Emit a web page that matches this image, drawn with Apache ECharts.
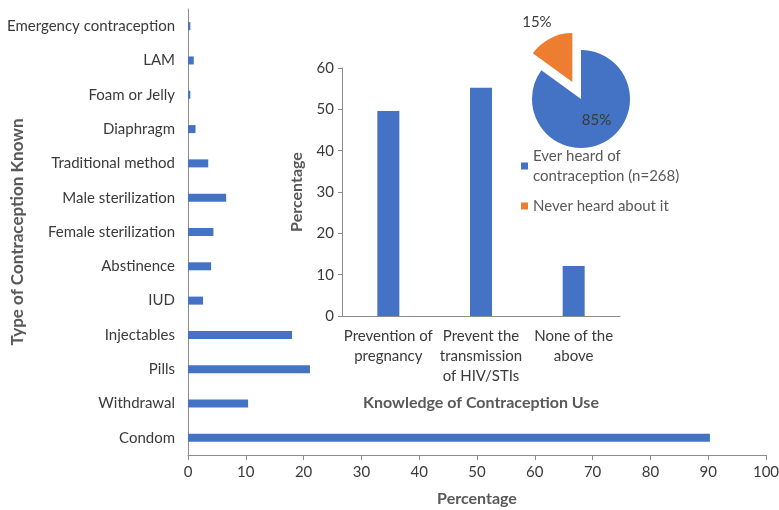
<!DOCTYPE html>
<html>
<head>
<meta charset="utf-8">
<script src="https://cdn.jsdelivr.net/npm/echarts@6/dist/echarts.min.js"></script>
<style>
  html, body { margin: 0; padding: 0; background: #fff; }
  #chart { width: 779px; height: 510px; }
</style>
</head>
<body>
<div id="chart"></div>
<script>
// Contraceptive methods known (top to bottom) and % of respondents
const methods = ['Emergency contraception', 'LAM', 'Foam or Jelly', 'Diaphragm', 'Traditional method',
  'Male sterilization', 'Female sterilization', 'Abstinence', 'IUD', 'Injectables', 'Pills',
  'Withdrawal', 'Condom'];
const methodPct = [0.4, 1.0, 0.4, 1.3, 3.5, 6.6, 4.4, 4.0, 2.6, 18.0, 21.1, 10.4, 90.3];
const pctTicks = [0, 10, 20, 30, 40, 50, 60, 70, 80, 90, 100];

// Knowledge of what contraception is used for
const uses = ['Prevention of\npregnancy', 'Prevent the\ntransmission\nof HIV/STIs', 'None of the\nabove'];
const usePct = [49.6, 55.2, 12.1];

// Ever heard of contraception
const heardNames = ['Ever heard of\ncontraception (n=268)', 'Never heard about it'];
const heardPct = [85, 15];

const BLUE = '#4472C4', ORANGE = '#ED7D31';
const FONT = 'Lato';
const LABEL = '#3a3a3a', AXIS = '#8c8c8c', TITLE = '#595959';

const chart = echarts.init(document.getElementById('chart'), null, { renderer: 'canvas' });

chart.setOption({
  animation: false,
  textStyle: { fontFamily: FONT },
  color: [BLUE, ORANGE],
  grid: [
    { left: 188, right: 13, top: 9, bottom: 55, outerBoundsMode: 'none', containLabel: false },
    { left: 342, right: 159, top: 68, bottom: 194, outerBoundsMode: 'none', containLabel: false }
  ],
  xAxis: [
    {
      gridIndex: 0, type: 'value', min: 0, max: 100, interval: 10,
      name: 'Percentage', nameLocation: 'middle', nameGap: 36, nameMoveOverlap: false,
      nameTextStyle: { fontSize: 16, fontWeight: 'bold', color: TITLE, fontFamily: FONT },
      axisLine: { show: true, lineStyle: { color: AXIS, width: 1 } },
      axisTick: { show: true, length: 5, lineStyle: { color: AXIS } },
      axisLabel: { fontSize: 15, color: LABEL, margin: 10,
        formatter: v => pctTicks.includes(v) ? String(v) : '' },
      splitLine: { show: false }
    },
    {
      gridIndex: 1, type: 'category', data: uses,
      name: 'Knowledge of Contraception Use', nameLocation: 'middle', nameGap: 79, nameMoveOverlap: false,
      nameTextStyle: { fontSize: 16, fontWeight: 'bold', color: TITLE, fontFamily: FONT },
      axisLine: { show: true, lineStyle: { color: AXIS } },
      axisTick: { show: false },
      axisLabel: { fontSize: 15, color: LABEL, lineHeight: 20, margin: 10, interval: 0 }
    }
  ],
  yAxis: [
    {
      gridIndex: 0, type: 'category', data: methods, inverse: true,
      name: 'Type of Contraception Known', nameLocation: 'middle', nameGap: 162, nameMoveOverlap: false,
      nameTextStyle: { fontSize: 17, fontWeight: 'bold', color: TITLE, fontFamily: FONT },
      axisLine: { show: true, lineStyle: { color: AXIS } },
      axisTick: { show: false },
      axisLabel: { fontSize: 15, color: LABEL, margin: 13, interval: 0 }
    },
    {
      gridIndex: 1, type: 'value', min: 0, max: 60, interval: 10,
      name: 'Percentage', nameLocation: 'middle', nameGap: 37, nameMoveOverlap: false,
      nameTextStyle: { fontSize: 16, fontWeight: 'bold', color: TITLE, fontFamily: FONT },
      axisLine: { show: true, lineStyle: { color: AXIS } },
      axisTick: { show: true, length: 4, lineStyle: { color: AXIS } },
      axisLabel: { fontSize: 15, color: LABEL, margin: 8 },
      splitLine: { show: false }
    }
  ],
  legend: {
    orient: 'vertical', left: 521, top: 136, padding: 0,
    itemWidth: 7, itemHeight: 7, itemGap: 0, icon: 'rect',
    textStyle: { fontSize: 15, color: TITLE, lineHeight: 20, fontFamily: FONT },
    data: [
      { name: heardNames[0], textStyle: { padding: [20, 0, 0, 0] } },
      { name: heardNames[1] }
    ]
  },
  series: [
    {
      type: 'bar', xAxisIndex: 0, yAxisIndex: 0, data: methodPct,
      barWidth: 8, itemStyle: { color: BLUE }
    },
    {
      type: 'bar', xAxisIndex: 1, yAxisIndex: 1, data: usePct,
      barWidth: 22, itemStyle: { color: BLUE }
    },
    {
      type: 'pie', center: [581, 99], radius: 49, startAngle: 90, clockwise: true,
      selectedMode: 'multiple', selectedOffset: 19,
      itemStyle: { borderWidth: 0 },
      label: { fontSize: 15, color: LABEL, formatter: '{c}%', fontFamily: FONT, position: 'inside' },
      labelLine: { show: false },
      // nudge the labels: the small slice's label sits above-left of its wedge
      labelLayout: p => p.dataIndex === 1 ? { dx: -23, dy: -35 } : { dx: 3, dy: -3 },
      data: [
        { name: heardNames[0], value: heardPct[0], itemStyle: { color: BLUE } },
        { name: heardNames[1], value: heardPct[1], selected: true, itemStyle: { color: ORANGE } }
      ]
    }
  ]
});
</script>
</body>
</html>
